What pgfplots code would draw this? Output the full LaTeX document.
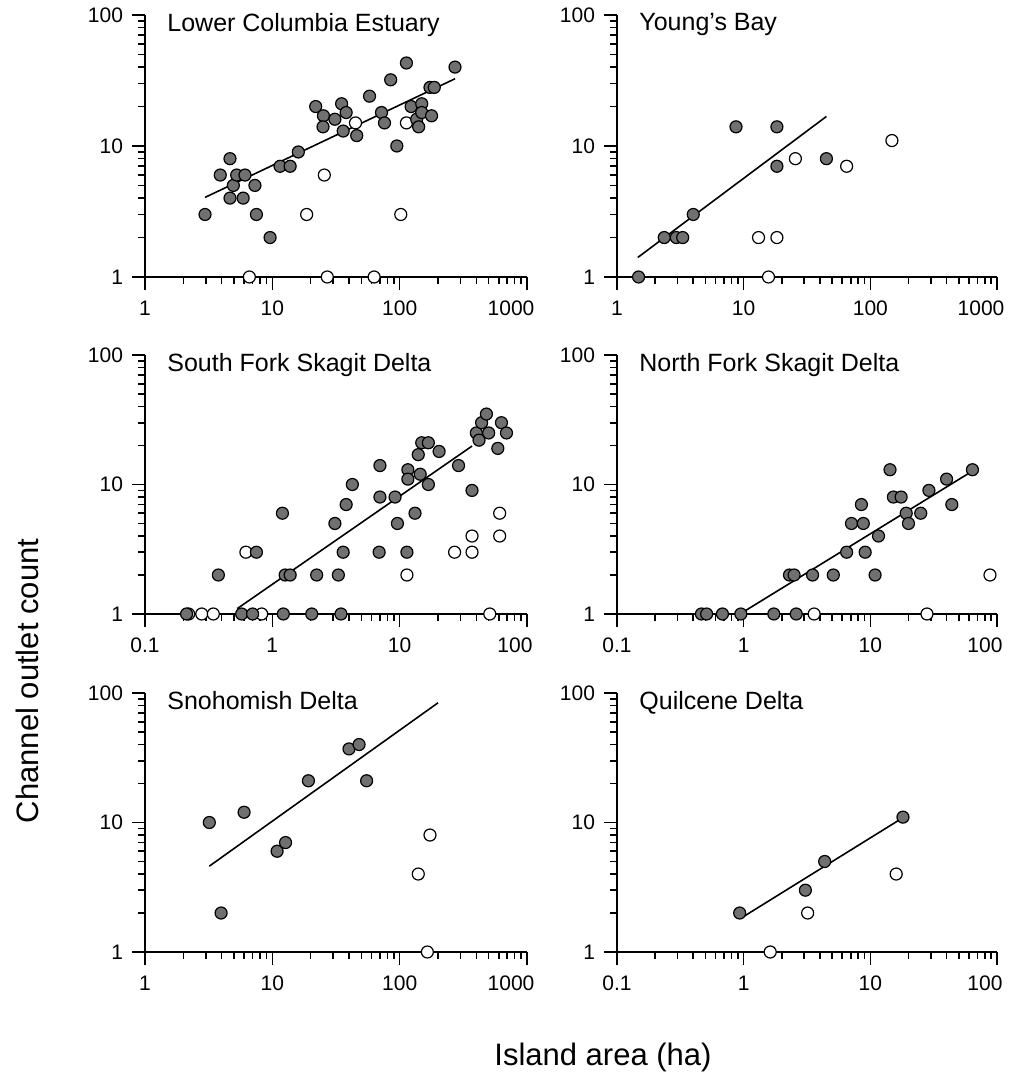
\documentclass[border=0pt]{standalone}
\usepackage{fontspec}
\setmainfont{Liberation Sans}
\usepackage{pgfplots}
\pgfplotsset{compat=1.18}

\definecolor{dotgray}{HTML}{707070}

\pgfplotsset{
  every axis/.append style={
    scale only axis,
    ymin=1, ymax=100,
    axis lines*=left,
    axis line style={-, line width=0.9pt},
    tick align=outside,
    major tick length=6.5pt, minor tick length=3.5pt,
    tick style={black, line width=0.8pt},
    ytick={1,10,100}, yticklabels={1,10,100},
    minor ytick={2,3,4,5,6,7,8,9,20,30,40,50,60,70,80,90},
    tick label style={font=\fontsize{10.5}{12}\selectfont},
    yticklabel style={xshift=-1pt},
    xticklabel style={yshift=-2pt},
    clip=false,
  },
}
% last tick label sits a little left of its tick in the reference
\newcommand{\lastlab}[2]{\hspace*{-#1}#2\hspace*{#1}}
\newcommand{\paneltitle}[1]{\node[anchor=north west, inner sep=0pt,
  font=\fontsize{12.5}{14}\selectfont] at (rel axis cs:0,1) [xshift=11pt, yshift=1pt] {#1};}

\begin{document}
\begin{tikzpicture}
\path[use as bounding box] (0,0) rectangle (505pt,537pt);

% Lower Columbia Estuary
\begin{axis}[xmode=log, ymode=log, anchor=south west, at={(72.5pt,398.5pt)}, width=191pt, height=131pt,
  xmin=1, xmax=1000, xtick={1,10,100,1000}, xticklabels={1,10,100,\lastlab{8pt}{1000}},
  minor xtick={2,3,4,5,6,7,8,9,20,30,40,50,60,70,80,90,200,300,400,500,600,700,800,900}]
\addplot[black, line width=0.8pt, no marks] coordinates {(2.96,4.05) (272,32.6)};
\addplot[only marks, mark=*, mark size=3pt, mark options={fill=white, draw=black, line width=0.6pt}]
 coordinates {(6.6,1) (27,1) (63,1) (25.6,6) (18.6,3) (102,3) (45,15) (113,15)};
\addplot[only marks, mark=*, mark size=3pt, mark options={fill=dotgray, draw=black, line width=0.6pt}]
 coordinates {(2.96,3) (4.65,8) (3.9,6) (4.65,4) (4.94,5) (5.25,6) (6.1,6) (5.9,4)
 (7.3,5) (7.5,3) (9.6,2) (11.5,7) (13.8,7) (16,9) (21.9,20) (25.2,17) (25,14) (31,16) (35,21)
 (38,18) (36,13) (46,12) (58,24) (72,18) (76,15) (85,32) (95,10) (113,43) (123,20) (136,16)
 (149,21) (141,14) (149,18) (178,17) (173,28) (187,28) (272,40)};
\paneltitle{Lower Columbia Estuary}
\end{axis}

% Young's Bay
\begin{axis}[xmode=log, ymode=log, anchor=south west, at={(308.5pt,398.5pt)}, width=190pt, height=131pt,
  xmin=1, xmax=1000, xtick={1,10,100,1000}, xticklabels={1,10,100,\lastlab{8pt}{1000}},
  minor xtick={2,3,4,5,6,7,8,9,20,30,40,50,60,70,80,90,200,300,400,500,600,700,800,900}]
\addplot[black, line width=0.8pt, no marks] coordinates {(1.46,1.41) (45,16.8)};
\addplot[only marks, mark=*, mark size=3pt, mark options={fill=white, draw=black, line width=0.6pt}]
 coordinates {(13.1,2) (18.3,2) (15.7,1) (25.6,8) (65,7) (148,11)};
\addplot[only marks, mark=*, mark size=3pt, mark options={fill=dotgray, draw=black, line width=0.6pt}]
 coordinates {(1.48,1) (2.36,2) (2.94,2) (3.3,2) (4.0,3) (8.7,14) (18.3,14) (18.3,7) (45,8)};
\paneltitle{Young's Bay}
\end{axis}

% South Fork Skagit Delta
\begin{axis}[xmode=log, ymode=log, anchor=south west, at={(72.5pt,230pt)}, width=191pt, height=129.5pt,
  xmin=0.1, xmax=100, xtick={0.1,1,10,100}, xticklabels={0.1,1,10,\lastlab{6pt}{100}},
  minor xtick={0.2,0.3,0.4,0.5,0.6,0.7,0.8,0.9,2,3,4,5,6,7,8,9,20,30,40,50,60,70,80,90}]
\addplot[black, line width=0.8pt, no marks] coordinates {(0.53,1.1) (37,19.8)};
\addplot[only marks, mark=*, mark size=3pt, mark options={fill=white, draw=black, line width=0.6pt}]
 coordinates {(0.22,1) (0.279,1) (0.344,1) (0.825,1) (0.62,3) (11.4,2) (27,3)
 (37,3) (37,4) (61,4) (61,6) (51,1)};
\addplot[only marks, mark=*, mark size=3pt, mark options={fill=dotgray, draw=black, line width=0.6pt}]
 coordinates {(0.377,2) (0.212,1) (0.574,1) (0.70,1) (1.22,1) (2.04,1) (3.46,1)
 (0.75,3) (1.2,6) (1.26,2) (1.38,2) (2.23,2) (3.3,2) (3.6,3) (3.1,5) (3.8,7) (4.25,10) (7.0,14)
 (7.0,8) (6.9,3) (9.2,8) (9.6,5) (11.4,3) (11.6,13) (11.6,11) (13.2,6) (14,17) (14.5,12)
 (14.9,21) (16.8,21) (16.8,10) (20.4,18) (29,14) (37,9) (40,25) (42,22) (44,30) (48,35)
 (50,25) (63,30) (69,25) (59,19)};
\paneltitle{South Fork Skagit Delta}
\end{axis}

% North Fork Skagit Delta
\begin{axis}[xmode=log, ymode=log, anchor=south west, at={(308.5pt,230pt)}, width=190pt, height=129.5pt,
  xmin=0.1, xmax=100, xtick={0.1,1,10,100}, xticklabels={0.1,1,10,\lastlab{6pt}{100}},
  minor xtick={0.2,0.3,0.4,0.5,0.6,0.7,0.8,0.9,2,3,4,5,6,7,8,9,20,30,40,50,60,70,80,90}]
\addplot[black, line width=0.8pt, no marks] coordinates {(0.95,1.01) (64,12.7)};
\addplot[only marks, mark=*, mark size=3pt, mark options={fill=white, draw=black, line width=0.6pt}]
 coordinates {(3.6,1) (28,1) (88,2)};
\addplot[only marks, mark=*, mark size=3pt, mark options={fill=dotgray, draw=black, line width=0.6pt}]
 coordinates {(0.464,1) (0.51,1) (0.68,1) (0.95,1) (1.73,1) (2.6,1) (2.3,2) (2.5,2)
 (3.5,2) (5.1,2) (6.5,3) (7.1,5) (8.8,5) (8.5,7) (9.1,3) (10.9,2) (11.6,4) (14.3,13) (15.2,8)
 (17.5,8) (19.2,6) (20,5) (25,6) (29,9) (40,11) (44,7) (64,13)};
\paneltitle{North Fork Skagit Delta}
\end{axis}

% Snohomish Delta
\begin{axis}[xmode=log, ymode=log, anchor=south west, at={(72.5pt,61pt)}, width=191pt, height=129.5pt,
  xmin=1, xmax=1000, xtick={1,10,100,1000}, xticklabels={1,10,100,\lastlab{8pt}{1000}},
  minor xtick={2,3,4,5,6,7,8,9,20,30,40,50,60,70,80,90,200,300,400,500,600,700,800,900}]
\addplot[black, line width=0.8pt, no marks] coordinates {(3.2,4.6) (200,84)};
\addplot[only marks, mark=*, mark size=3pt, mark options={fill=white, draw=black, line width=0.6pt}]
 coordinates {(140,4) (173,8) (165,1)};
\addplot[only marks, mark=*, mark size=3pt, mark options={fill=dotgray, draw=black, line width=0.6pt}]
 coordinates {(3.2,10) (6.0,12) (3.96,2) (10.9,6) (12.7,7) (19.2,21) (40,37) (48,40) (55,21)};
\paneltitle{Snohomish Delta}
\end{axis}

% Quilcene Delta
\begin{axis}[xmode=log, ymode=log, anchor=south west, at={(308.5pt,61pt)}, width=190pt, height=129.5pt,
  xmin=0.1, xmax=100, xtick={0.1,1,10,100}, xticklabels={0.1,1,10,\lastlab{6pt}{100}},
  minor xtick={0.2,0.3,0.4,0.5,0.6,0.7,0.8,0.9,2,3,4,5,6,7,8,9,20,30,40,50,60,70,80,90}]
\addplot[black, line width=0.8pt, no marks] coordinates {(1.0,1.88) (18.1,10.9)};
\addplot[only marks, mark=*, mark size=3pt, mark options={fill=white, draw=black, line width=0.6pt}]
 coordinates {(3.2,2) (16,4) (1.62,1)};
\addplot[only marks, mark=*, mark size=3pt, mark options={fill=dotgray, draw=black, line width=0.6pt}]
 coordinates {(0.93,2) (3.07,3) (4.36,5) (18.1,11)};
\paneltitle{Quilcene Delta}
\end{axis}

\node[rotate=90, font=\fontsize{15.5}{17}\selectfont] at (13.5pt,196.5pt) {Channel outlet count};
\node[anchor=base, font=\fontsize{15.5}{17}\selectfont] at (301.5pt,4.5pt) {Island area (ha)};
\end{tikzpicture}
\end{document}
